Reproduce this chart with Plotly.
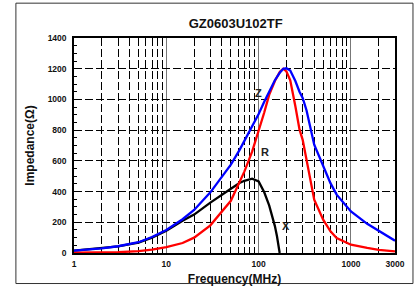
import math
import plotly.graph_objects as go

# Frequencies (MHz) and impedance values (Ohm)
freq_zr = [1, 2, 3, 5, 7, 10, 15, 20, 30, 50, 62, 70, 85, 100, 115, 130, 150, 170, 185,
           200, 220, 250, 277, 300, 330, 400, 500, 600, 700, 1000, 1500, 2000, 3000]
z_vals = [15, 30, 44, 70, 104, 150, 220, 280, 395, 575, 670, 730, 820, 905, 985, 1055, 1125,
          1175, 1200, 1203, 1188, 1120, 1050, 1010, 930, 705, 564, 455, 380, 271, 190, 142, 80]
r_vals = [2, 3, 5, 12, 22, 38, 65, 100, 180, 340, 456, 530, 660, 790, 915, 1030, 1120,
          1180, 1200, 1182, 1125, 955, 805, 737, 600, 347, 217, 141, 98, 54, 33, 21, 10]

freq_x = [1, 2, 3, 5, 7, 10, 15, 20, 30, 50, 62, 70, 85, 100, 115, 130, 137, 150, 158, 169]
x_vals = [15, 30, 43, 68, 100, 145, 210, 250, 328, 418, 456, 470, 484, 466, 395, 310, 261,
          175, 109, 0]

x_tickvals = [1, 10, 100, 1000, 3000]
x_ticktext = ["1", "10", "100", "1000", "3000"]
x_minor = [2, 3, 4, 5, 6, 7, 8, 9, 20, 30, 40, 50, 60, 70, 80, 90,
           200, 300, 400, 500, 600, 700, 800, 900, 2000]
y_tickvals = [0, 200, 400, 600, 800, 1000, 1200, 1400]

labels = ["Z", "R", "X"]
label_f = [100.7, 116, 200]
label_y = [1045, 655, 174]

FONT = "Liberation Sans, Arial, sans-serif"
DASH = "8px,3px"

fig = go.Figure()
fig.add_trace(go.Scatter(x=freq_x, y=x_vals, mode="lines", line=dict(color="black", width=2.3),
                         name="X", showlegend=False))
fig.add_trace(go.Scatter(x=freq_zr, y=r_vals, mode="lines", line=dict(color="#ff0000", width=2.3),
                         name="R", showlegend=False))
fig.add_trace(go.Scatter(x=freq_zr, y=z_vals, mode="lines", line=dict(color="#0000ff", width=2.3),
                         name="Z", showlegend=False))

for t, lf, ly in zip(labels, label_f, label_y):
    fig.add_annotation(x=math.log10(lf), y=ly, xref="x", yref="y", text="<b>%s</b>" % t,
                       showarrow=False, font=dict(family=FONT, size=11, color="#222"))

fig.update_layout(
    width=419, height=292,
    margin=dict(l=74, r=24, t=38, b=38.5, autoexpand=False),
    paper_bgcolor="white", plot_bgcolor="white",
    title=dict(text="<b>GZ0603U102TF</b>", x=0.5625, xanchor="center", y=0.92, yanchor="middle",
               font=dict(family=FONT, size=13, color="#111")),
    font=dict(family=FONT, color="#111"),
    xaxis=dict(
        type="log", range=[0, 3.4771], tickvals=x_tickvals, ticktext=x_ticktext,
        automargin=False,
        showgrid=True, gridcolor="#777", gridwidth=1.3,
        showline=True, linecolor="black", linewidth=2, mirror=True,
        ticks="", tickfont=dict(family=FONT, size=8.5, weight="bold"), ticklabelstandoff=2,
        minor=dict(tickvals=x_minor, showgrid=True, gridcolor="black", gridwidth=1,
                   griddash=DASH, ticks=""),
        title=dict(text="<b>Frequency(MHz)</b>", font=dict(family=FONT, size=12), standoff=6),
        zeroline=False,
    ),
    yaxis=dict(
        range=[0, 1400], tickvals=y_tickvals, automargin=False,
        showgrid=True, gridcolor="black", gridwidth=1, griddash=DASH,
        showline=True, linecolor="black", linewidth=1.5, mirror=True,
        ticks="inside", ticklen=8, tickwidth=1, tickcolor="black",
        tickfont=dict(family=FONT, size=8.5, weight="bold"), ticklabelstandoff=4,
        minor=dict(dtick=50, ticks="inside", ticklen=3, tickcolor="black", showgrid=False),
        title=dict(text="<b>Impedance(Ω)</b>", font=dict(family=FONT, size=12), standoff=10),
        zeroline=False,
    ),
)

# outer frame around the whole chart
fig.add_shape(type="rect", xref="paper", yref="paper", x0=-0.181, x1=1.056, y0=-0.142, y1=1.162,
              line=dict(color="#333", width=1), fillcolor="rgba(0,0,0,0)", layer="below")

fig.write_html("out.html", config={"displayModeBar": False},
               post_script="document.body.style.margin='0';document.body.style.overflow='hidden';")
